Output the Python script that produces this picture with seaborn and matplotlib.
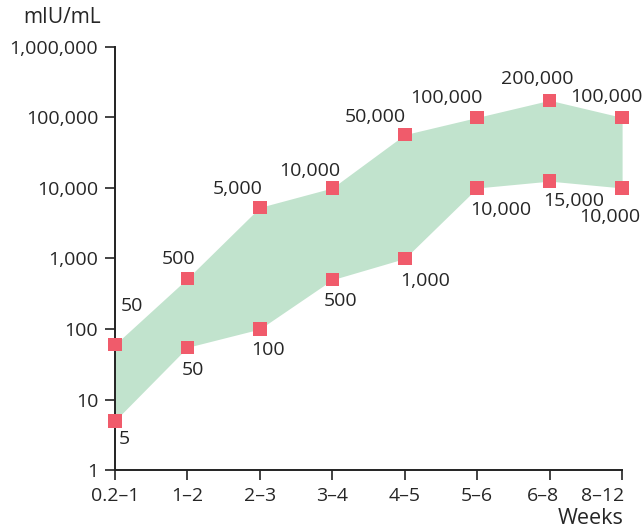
import matplotlib
matplotlib.use("Agg")
import matplotlib.pyplot as plt
import matplotlib.ticker as mticker
import matplotlib.transforms as mtransforms
import numpy as np
import pandas as pd
import seaborn as sns

# week ranges on the x axis
WEEKS = ["0.2\u20131", "1\u20132", "2\u20133", "3\u20134", "4\u20135", "5\u20136", "6\u20138", "8\u201312"]
# hCG range (mIU/mL), values as plotted
UPPER = [60, 520, 5300, 10000, 57000, 100000, 175000, 100000]
LOWER = [5, 55, 100, 500, 1000, 10000, 12500, 10000]
# printed labels next to the markers
UPPER_LABELS = ["50", "500", "5,000", "10,000", "50,000", "100,000", "200,000", "100,000"]
LOWER_LABELS = ["5", "50", "100", "500", "1,000", "10,000", "15,000", "10,000"]
Y_TICKS = [1, 10, 100, 1000, 10000, 100000, 1000000]

# label offsets in points (layout only)
UPPER_OFFSETS = [(12, 28), (-6, 14), (-16, 13), (-16, 12), (-21, 13), (-22, 14), (-9, 15), (-11, 15)]
LOWER_OFFSETS = [(7, -13), (4, -16), (6, -15), (6, -15), (15, -16), (17, -16), (17, -14), (-9, -21)]

FILL_COLOR = "#c1e3cd"
MARK_COLOR = "#f05b6b"
FS = 14


def main() -> None:
    sns.set_theme(style="ticks")
    plt.rcParams["font.family"] = ["Open Sans", "DejaVu Sans"]

    x = np.arange(len(WEEKS))
    df = pd.DataFrame(
        {
            "x": np.concatenate([x, x]),
            "value": UPPER + LOWER,
        }
    )

    fig = plt.figure(figsize=(6.42, 5.27), dpi=100)
    ax = fig.add_axes([0.179, 0.108, 0.79, 0.803])

    ax.fill_between(x, LOWER, UPPER, color=FILL_COLOR, linewidth=0, zorder=1)
    sns.scatterplot(
        data=df, x="x", y="value", marker="s", s=95, color=MARK_COLOR,
        edgecolor="none", ax=ax, zorder=3, clip_on=False,
    )

    for i in range(len(WEEKS)):
        ax.annotate(UPPER_LABELS[i], (x[i], UPPER[i]), xytext=UPPER_OFFSETS[i],
                    textcoords="offset points", ha="center", va="center", fontsize=FS)
        ax.annotate(LOWER_LABELS[i], (x[i], LOWER[i]), xytext=LOWER_OFFSETS[i],
                    textcoords="offset points", ha="center", va="center", fontsize=FS)

    ax.set_yscale("log")
    ax.set_ylim(1, 1e6)
    ax.set_xlim(0, len(WEEKS) - 1)
    ax.set_yticks(Y_TICKS)
    ax.yaxis.set_major_formatter(mticker.FuncFormatter(lambda v, _: f"{int(round(v)):,}"))
    ax.yaxis.set_minor_locator(mticker.NullLocator())
    ax.set_xticks(x)
    ax.set_xticklabels(WEEKS)
    ax.tick_params(axis="both", length=7, width=1.2, labelsize=FS, color="#222222", pad=5)
    ax.set_xlabel("")
    ax.set_ylabel("")
    for side in ["left", "bottom"]:
        ax.spines[side].set_linewidth(1.4)
        ax.spines[side].set_color("#222222")
    sns.despine(ax=ax)

    # last labels are nudged left so they stay inside the figure
    xlabels = ax.get_xticklabels()
    shift = mtransforms.ScaledTranslation(-7 / 100, 0, fig.dpi_scale_trans)
    xlabels[-2].set_transform(xlabels[-2].get_transform() + shift)
    xlabels[-1].set_horizontalalignment("right")
    edge = mtransforms.ScaledTranslation(2 / 100, 0, fig.dpi_scale_trans)
    xlabels[-1].set_transform(xlabels[-1].get_transform() + edge)

    fig.text(0.097, 0.966, "mIU/mL", ha="center", va="center", fontsize=15)
    fig.text(0.972, 0.017, "Weeks", ha="right", va="center", fontsize=15.5)

    fig.savefig("out.png", dpi=100)
    plt.close(fig)


if __name__ == "__main__":
    main()
